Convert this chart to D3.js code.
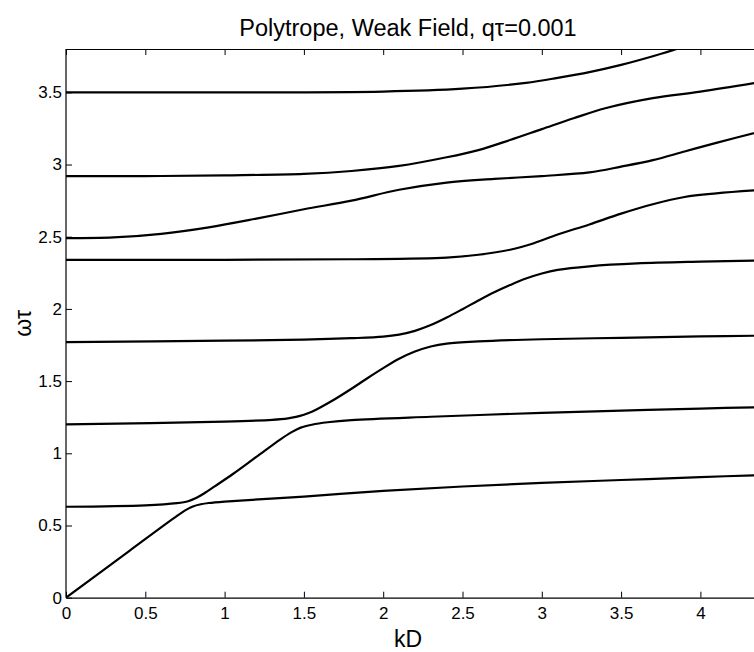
<!DOCTYPE html>
<html>
<head>
<meta charset="utf-8">
<script src="https://cdn.jsdelivr.net/npm/d3@7"></script>
<style>
  body { margin: 0; background: #fff; }
  text { font-family: "Liberation Sans", Arial, sans-serif; fill: #000; }
</style>
</head>
<body>
<div id="chart"></div>
<script>
// branch data: kD values and matching omega*tau
var k1 = [0, 0.4, 0.7, 0.76, 0.8, 0.85, 0.9, 1.0, 1.5, 2.0, 2.5, 3.0, 3.5, 4.0, 4.4];
var w1 = [0, 0.325, 0.567, 0.61, 0.632, 0.647, 0.656, 0.666, 0.70, 0.74, 0.77, 0.795, 0.815, 0.835, 0.85];

var k2 = [0, 0.5, 0.7, 0.77, 0.82, 0.87, 0.94, 1.05, 1.2, 1.35, 1.42, 1.48, 1.55, 1.65, 1.8, 2.3, 3.0, 3.5, 4.0, 4.4];
var w2 = [0.63, 0.64, 0.655, 0.668, 0.69, 0.722, 0.773, 0.855, 0.975, 1.095, 1.145, 1.178, 1.198, 1.215, 1.23, 1.253, 1.28, 1.295, 1.31, 1.32];

var k3 = [0, 1.0, 1.3, 1.4, 1.45, 1.5, 1.55, 1.6, 1.7, 1.8, 1.9, 2.0, 2.1, 2.2, 2.3, 2.4, 2.6, 3.0, 3.5, 4.0, 4.4];
var w3 = [1.2, 1.22, 1.232, 1.242, 1.252, 1.267, 1.288, 1.316, 1.378, 1.447, 1.52, 1.59, 1.655, 1.705, 1.74, 1.76, 1.775, 1.79, 1.80, 1.81, 1.815];

var k4 = [0, 1.0, 1.5, 1.8, 2.0, 2.1, 2.2, 2.3, 2.4, 2.5, 2.6, 2.7, 2.8, 2.9, 3.0, 3.1, 3.3, 3.6, 4.0, 4.4];
var w4 = [1.77, 1.78, 1.787, 1.797, 1.808, 1.822, 1.848, 1.888, 1.94, 1.998, 2.058, 2.115, 2.165, 2.21, 2.245, 2.27, 2.295, 2.315, 2.327, 2.335];

var k5 = [0, 1.0, 1.8, 2.4, 2.6, 2.8, 2.95, 3.1, 3.3, 3.5, 3.7, 3.9, 4.1, 4.4];
var w5 = [2.34, 2.34, 2.344, 2.355, 2.375, 2.41, 2.455, 2.515, 2.585, 2.66, 2.725, 2.775, 2.80, 2.825];

var k6 = [0, 0.3, 0.6, 0.9, 1.2, 1.5, 1.8, 2.1, 2.4, 2.7, 3.0, 3.3, 3.5, 3.7, 3.9, 4.1, 4.4];
var w6 = [2.49, 2.495, 2.52, 2.565, 2.625, 2.69, 2.75, 2.825, 2.875, 2.9, 2.92, 2.945, 2.985, 3.03, 3.09, 3.15, 3.235];

var k7 = [0, 0.5, 1.0, 1.5, 1.8, 2.1, 2.4, 2.6, 2.8, 3.0, 3.2, 3.4, 3.7, 4.0, 4.4];
var w7 = [2.92, 2.92, 2.925, 2.935, 2.955, 2.99, 3.05, 3.1, 3.17, 3.245, 3.32, 3.39, 3.46, 3.505, 3.575];

var k8 = [0, 1.0, 2.0, 2.5, 2.9, 3.1, 3.3, 3.5, 3.7, 3.85, 3.95];
var w8 = [3.5, 3.5, 3.505, 3.525, 3.565, 3.6, 3.64, 3.69, 3.75, 3.80, 3.84];

var xTicks = [0, 0.5, 1, 1.5, 2, 2.5, 3, 3.5, 4];
var yTicks = [0, 0.5, 1, 1.5, 2, 2.5, 3, 3.5];

var W = 754, H = 652;
var padL = 66, padT = 49, padR = 754, padB = 597.7;

var x = d3.scaleLinear().domain([0, (padR - padL) / 158.6]).range([padL, padR]);
var y = d3.scaleLinear().domain([0, 3.8]).range([padB, padT]);

var svg = d3.select("#chart").append("svg")
    .attr("width", W).attr("height", H);

svg.append("defs").append("clipPath").attr("id", "clip")
  .append("rect").attr("x", padL).attr("y", padT)
  .attr("width", padR - padL).attr("height", padB - padT);

// axes, MATLAB style: inward ticks, top ticks mirrored
var xb = svg.append("g").attr("transform", "translate(0," + padB + ")")
  .call(d3.axisBottom(x).tickValues(xTicks).tickSizeInner(-6).tickSizeOuter(0).tickPadding(9)
    .tickFormat(d3.format("")));
var xt = svg.append("g").attr("transform", "translate(0," + padT + ")")
  .call(d3.axisTop(x).tickValues(xTicks).tickSizeInner(-6).tickSizeOuter(0).tickFormat(""));
var yl = svg.append("g").attr("transform", "translate(" + padL + ",0)")
  .call(d3.axisLeft(y).tickValues(yTicks).tickSizeInner(-6).tickSizeOuter(0).tickPadding(4)
    .tickFormat(d3.format("")));
// left spine should run the full height
yl.select(".domain").attr("d", "M0," + padT + "V" + padB);

[xb, xt, yl].forEach(function(g) {
  g.attr("font-size", 17).attr("font-family", null);
  g.select(".domain").attr("stroke", "#000").attr("stroke-width", 1.2);
  g.selectAll(".tick line").attr("stroke", "#000");
  g.selectAll(".tick text").attr("font-size", 17).style("font-size", "17px");
});

var line = d3.line()
  .x(function(d) { return x(d[0]); })
  .y(function(d) { return y(d[1]); })
  .curve(d3.curveCatmullRom.alpha(0.5));

var branches = [[k1, w1], [k2, w2], [k3, w3], [k4, w4], [k5, w5], [k6, w6], [k7, w7], [k8, w8]];

svg.append("g").attr("clip-path", "url(#clip)")
  .selectAll("path").data(branches).enter().append("path")
  .attr("d", function(b) { return line(d3.zip(b[0], b[1])); })
  .attr("fill", "none")
  .attr("stroke", "#000")
  .attr("stroke-width", 2.2);

svg.append("text").attr("x", 408).attr("y", 36)
  .attr("text-anchor", "middle").style("font-size", "23.5px")
  .text("Polytrope, Weak Field, q\u03c4=0.001");

svg.append("text").attr("x", 408).attr("y", 647)
  .attr("text-anchor", "middle").style("font-size", "23px")
  .text("kD");

svg.append("text")
  .attr("transform", "translate(31," + y(1.9) + ") rotate(-90)")
  .attr("text-anchor", "middle").style("font-size", "23px")
  .text("\u03c9\u03c4");
</script>
</body>
</html>
